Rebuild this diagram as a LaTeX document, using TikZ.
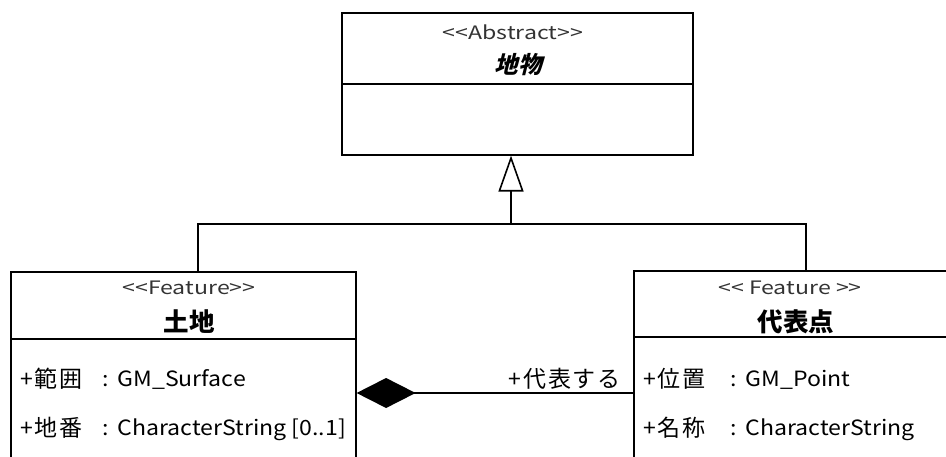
\documentclass[tikz,border=0pt]{standalone}
\usepackage{fontspec}
\setmainfont{Noto Sans CJK JP}
\newfontfamily\lat{Noto Sans CJK JP}[FakeStretch=1.1]
\newfontfamily\latw{Noto Sans CJK JP}[FakeStretch=1.25]
\newfontfamily\jpwide{Noto Sans CJK JP}[LetterSpace=8]
\newfontfamily\jpslant{Noto Sans CJK JP}[FakeSlant=0.25]
\usetikzlibrary{arrows.meta}
\definecolor{stereo}{HTML}{333333}
\begin{document}
\begin{tikzpicture}[x=1pt,y=-1pt,
  classbox/.style={draw, line width=1.6pt, inner sep=0pt, anchor=north west},
  stereotype/.style={text=stereo, font=\latw\fontsize{18.5}{18.5}\selectfont, inner sep=0pt, anchor=base},
  title/.style={font=\bfseries\fontsize{25.5}{25.5}\selectfont, inner sep=0pt, anchor=base},
  attr/.style={font=\jpwide\fontsize{23}{23}\selectfont, inner sep=0pt, anchor=base west},
  attrtype/.style={attr, font=\lat\fontsize{21}{21}\selectfont},
  link/.style={line width=1.6pt}]
\useasboundingbox (0,0) rectangle (946,457);
\clip (0,0) rectangle (946,457);

% abstract class
\node[classbox, minimum width=351pt, minimum height=142pt] (abs) at (341,12) {};
\draw[link] ([yshift=-72pt]abs.north west) -- ([yshift=-72pt]abs.north east);
\node[stereotype] (absst) at (513,40) {<<Abstract>>};
\node[title, font=\jpslant\bfseries\fontsize{23.5}{23.5}\selectfont] (absname) at (518,74) {地物};

% land
\node[classbox, minimum width=345pt, minimum height=220pt] (land) at (10,271) {};
\draw[link] ([yshift=-68pt]land.north west) -- ([yshift=-68pt]land.north east);
\node[stereotype] (landst) at (189,295) {<<Feature>>};
\node[title] (landname) at (189,331) {土地};
\node[attr] (la1) at (20,387) {+範囲};
\node[attrtype] (la1t) at (102,386) {:\hspace{9pt}GM\_Surface};
\node[attr] (la2) at (20,436) {+地番};
\node[attrtype] (la2t) at (102,435) {:\hspace{9pt}CharacterString [0..1]};

% representative point
\node[classbox, minimum width=400pt, minimum height=220pt] (rep) at (633,270) {};
\draw[link] ([yshift=-67pt]rep.north west) -- ([yshift=-67pt]rep.north east);
\node[stereotype] (repst) at (790,295) {<< Feature >>};
\node[title] (repname) at (796,331) {代表点};
\node[attr] (ra1) at (643,387) {+位置};
\node[attrtype] (ra1t) at (730,386) {:\hspace{9pt}GM\_Point};
\node[attr] (ra2) at (643,436) {+名称};
\node[attrtype] (ra2t) at (730,435) {:\hspace{9pt}CharacterString};

% generalization
\coordinate (hl) at (198,224);
\coordinate (hm) at (511,224);
\coordinate (hr) at (806,224);
\draw[link] (hl |- land.north) -- (hl) -- (hr) -- (hr |- rep.north);
\draw[link, -{Triangle[open, length=36pt, width=25pt]}] (hm) -- (hm |- abs.south);

% composition
\coordinate (cy) at (0,393);
\draw[link, {Diamond[length=59pt, width=30pt]}-] (land.east |- cy) -- (rep.west |- cy);
\node[attr, anchor=base east] (role) at (621,387) {+代表する};
\end{tikzpicture}
\end{document}
